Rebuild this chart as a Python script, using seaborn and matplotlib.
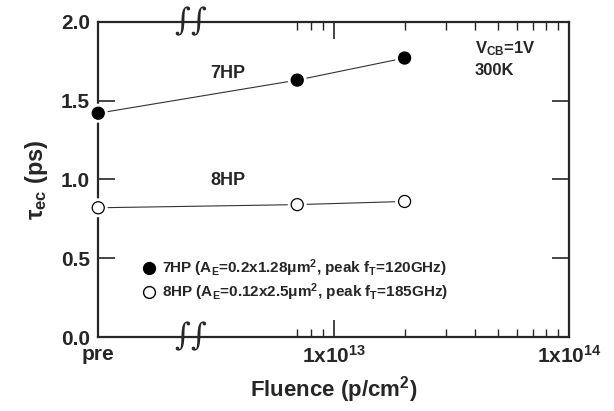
import numpy as np
import pandas as pd
import seaborn as sns
import matplotlib.pyplot as plt
import matplotlib.patheffects as pe
from matplotlib.lines import Line2D

# data ("pre" sits at the left end of the log axis)
pre_position = 1e12
fluence = [pre_position, 7e12, 2e13]
tau_7hp = [1.42, 1.63, 1.77]
tau_8hp = [0.82, 0.84, 0.86]
x_ticks = [pre_position, 1e13, 1e14]
x_tick_labels = ['pre', r'1x10$^{13}$', r'1x10$^{14}$']
y_ticks = [0.0, 0.5, 1.0, 1.5, 2.0]

data = pd.DataFrame({
    'Fluence': fluence * 2,
    'tau': tau_7hp + tau_8hp,
    'Device': ['7HP'] * 3 + ['8HP'] * 3,
})

sns.set_style('ticks')
plt.rcParams['font.family'] = ['Liberation Sans', 'DejaVu Sans']
plt.rcParams['font.weight'] = 'bold'
plt.rcParams['mathtext.fontset'] = 'custom'
plt.rcParams['mathtext.default'] = 'regular'
plt.rcParams['mathtext.rm'] = 'Liberation Sans:bold'
plt.rcParams['mathtext.bf'] = 'Liberation Sans:bold'

fig = plt.figure(figsize=(6.14, 4.11), dpi=100)
ax = fig.add_axes([0.16, 0.18, 0.767, 0.767])

for dev, face in [('7HP', 'black'), ('8HP', 'white')]:
    sub = data[data['Device'] == dev]
    sns.lineplot(data=sub, x='Fluence', y='tau', ax=ax, color='#333333',
                 linewidth=0.8, legend=False)
    sc = ax.scatter(sub['Fluence'], sub['tau'], s=75, facecolor=face,
                    edgecolor='black', linewidth=0.9, zorder=5, clip_on=False)
    sc.set_path_effects([pe.withStroke(linewidth=5, foreground='white')])

ax.set_xscale('log')
ax.set_xlim(1e12, 1e14)
ax.set_ylim(0, 2.0)
ax.set_xticks(x_ticks)
ax.set_xticklabels(x_tick_labels)
minor = [m * 1e12 for m in (7, 8, 9)] + [m * 1e13 for m in range(2, 10)]
ax.set_xticks(minor, minor=True)
ax.set_yticks(y_ticks)
ax.set_yticklabels([f'{v:.1f}' for v in y_ticks])

ax.tick_params(which='major', direction='in', length=12, width=1.2,
               top=True, right=True, labelsize=15, pad=6)
ax.tick_params(which='minor', direction='in', length=6, width=1,
               top=True, right=False)
ax.tick_params(axis='y', which='minor', left=False, right=False)
for s in ax.spines.values():
    s.set_linewidth(1.6)

ax.set_xlabel('Fluence (p/cm$^2$)', fontsize=16, fontweight='bold', labelpad=5)
ax.set_ylabel(r'$\tau_{ec}$ (ps)', fontsize=17, fontweight='bold', labelpad=8)

# axis break marks
for yy in (1.0, 0.0):
    for xx in (0.178, 0.213):
        ax.text(xx, yy, '∫', transform=ax.transAxes, fontsize=22,
                family='DejaVu Serif', fontweight='normal', fontstyle='italic',
                ha='center', va='center', clip_on=False)

ytr = ax.get_yaxis_transform()
ax.text(0.275, 1.67, '7HP', ha='center', va='center', fontsize=13, transform=ytr)
ax.text(0.275, 0.99, '8HP', ha='center', va='center', fontsize=13, transform=ytr)
ax.text(0.80, 1.83, r'V$_{CB}$=1V', ha='left', va='center', fontsize=12,
        transform=ytr)
ax.text(0.80, 1.69, '300K', ha='left', va='center', fontsize=12,
        transform=ytr)

handles = [
    Line2D([], [], marker='o', linestyle='none', markersize=8.5,
           markerfacecolor='black', markeredgecolor='black'),
    Line2D([], [], marker='o', linestyle='none', markersize=8.5,
           markerfacecolor='white', markeredgecolor='black'),
]
labels = [
    r'7HP (A$_E$=0.2x1.28μm$^2$, peak f$_T$=120GHz)',
    r'8HP (A$_E$=0.12x2.5μm$^2$, peak f$_T$=185GHz)',
]
ax.legend(handles, labels, loc='center left', bbox_to_anchor=(0.06, 0.18),
          frameon=False, fontsize=11, handletextpad=0.2, labelspacing=0.15,
          handlelength=1.2)

fig.savefig('out.png', dpi=100)
